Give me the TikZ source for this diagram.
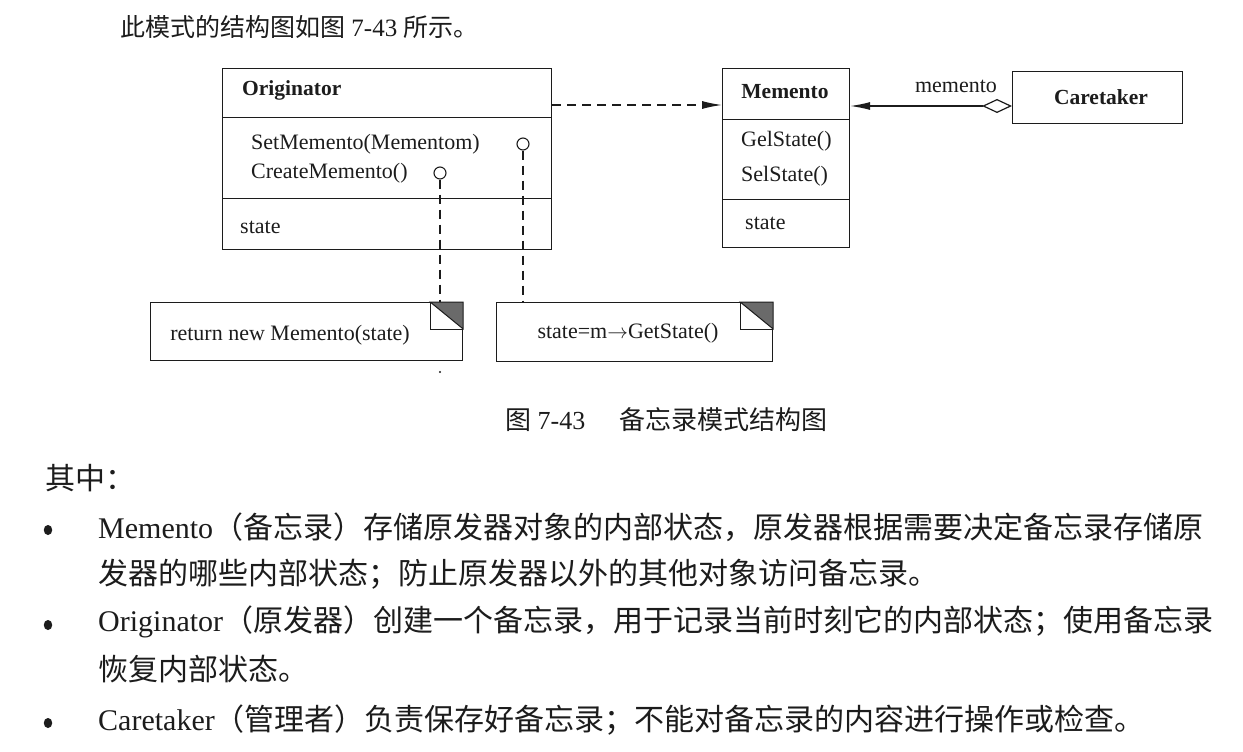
\documentclass[tikz,border=0pt]{standalone}
\usepackage{fontspec}
\setmainfont{Liberation Serif}
\newfontfamily\cjk{Noto Sans CJK SC}
\usetikzlibrary{arrows.meta,shapes.geometric}
\definecolor{ink}{HTML}{1C1C1C}
\definecolor{corner}{HTML}{6A6A6A}
\begin{document}
\begin{tikzpicture}[x=1pt,y=-1pt,
  box/.style={draw=ink, line width=1.2pt, anchor=north west, inner sep=0pt},
  txt/.style={anchor=west, inner sep=0pt, text=ink, font=\fontsize{22}{24}\selectfont},
  ttl/.style={inner sep=0pt, text=ink, font=\fontsize{21.5}{24}\selectfont\bfseries},
  dashes/.style={draw=ink, line width=1.2pt, dash pattern=on 9pt off 6pt},
  port/.style={circle, draw=ink, line width=1.1pt, minimum size=12pt, inner sep=0pt},
  body/.style={anchor=west, inner sep=0pt, text=ink, font=\fontsize{30}{34}\selectfont},
  head/.style={anchor=west, inner sep=0pt, text=ink, font=\fontsize{25}{28}\selectfont},
  captext/.style={anchor=west, inner sep=0pt, text=ink, font=\fontsize{26}{28}\selectfont},
  bulletdot/.style={ellipse, fill=ink, minimum width=8.5pt, minimum height=10pt, inner sep=0pt},
  tip/.style={line width=1.2pt, draw=ink}
]
\useasboundingbox[fill=white] (0,0) rectangle (1243,752);

% heading
\node[head] (intro) at (120,27) {{\cjk 此模式的结构图如图} 7-43 {\cjk 所示。}};

% Originator
\node[box, minimum width=329pt, minimum height=49pt] (oName) at (222,68) {};
\node[box, minimum width=329pt, minimum height=81pt] (oOps) at (222,117) {};
\node[box, minimum width=329pt, minimum height=51pt] (oAttr) at (222,198) {};
\node[ttl, anchor=west] (oNameT) at (242,90) {Originator};
\node[txt] (oOp1) at (251,144) {SetMemento(Mementom)};
\node[txt] (oOp2) at (251,173) {CreateMemento()};
\node[txt] (oAt) at (240,227) {state};
\node[port] (c1) at (523,144) {};
\node[port] (c2) at (440,173) {};

% Memento
\node[box, minimum width=127pt, minimum height=51pt] (mName) at (722,68) {};
\node[box, minimum width=127pt, minimum height=80pt] (mOps) at (722,119) {};
\node[box, minimum width=127pt, minimum height=48pt] (mAttr) at (722,199) {};
\node[ttl] (mNameT) at (785,92) {Memento};
\node[txt] (mOp1) at (741,141) {GelState()};
\node[txt] (mOp2) at (741,176) {SelState()};
\node[txt] (mAt) at (745,223) {state};

% Caretaker
\node[box, minimum width=170pt, minimum height=52pt] (cName) at (1012,71) {};
\node[ttl] (cNameT) at (1101,97) {Caretaker};

% connectors
\coordinate (y1) at (600,105);
\coordinate (y2) at (900,106);
\draw[dashes, -{Latex[length=20pt,width=8pt]}] (oName.east |- y1) -- (mName.west |- y1);
\draw[tip, {Diamond[open,length=30pt,width=14pt]}-{Latex[length=20pt,width=8pt]}] (cName.west |- y2) -- (mName.east |- y2);
\node[txt, anchor=center] (lbl) at (956,86) {memento};

% notes
\node[box, minimum width=312pt, minimum height=58pt] (nL) at (150,302) {};
\node[box, minimum width=276pt, minimum height=59pt] (nR) at (496,302) {};
\node[txt, anchor=center] (nLT) at (290,335) {return new Memento(state)};
\node[txt, anchor=center] (nRT) at (628,333) {state=m$\rightarrow$GetState()};
\foreach \n in {nL,nR}{
  \filldraw[fill=corner, draw=ink, line width=1pt] ([xshift=-33pt]\n.north east) -- (\n.north east) -- ([yshift=-27pt]\n.north east) -- cycle;
  \draw[ink, line width=1pt] ([xshift=-33pt]\n.north east) -- ([xshift=-33pt,yshift=-27pt]\n.north east) -- ([yshift=-27pt]\n.north east);
}
\draw[dashes] (c1.south) -- (c1.south |- nR.north);
\draw[dashes] (c2.south) -- (c2.south |- nL.north);
\fill[ink] (440,372) circle (1.2pt);

% caption
\node[captext] (capt) at (505,420) {{\cjk 图} 7-43\hspace{34pt}{\cjk 备忘录模式结构图}};

% body text
\node[body] (among) at (45,478) {\cjk 其中：};
\node[bulletdot] (b1) at (48,530) {};
\node[body] (l1) at (98,527) {Memento{\cjk （备忘录）存储原发器对象的内部状态，原发器根据需要决定备忘录存储原}};
\node[body] (l2) at (98,574) {\cjk 发器的哪些内部状态；防止原发器以外的其他对象访问备忘录。};
\node[bulletdot] (b2) at (48,625) {};
\node[body] (l3) at (98,622) {Originator{\cjk （原发器）创建一个备忘录，用于记录当前时刻它的内部状态；使用备忘录}};
\node[body] (l4) at (98,669) {\cjk 恢复内部状态。};
\node[bulletdot] (b3) at (48,723) {};
\node[body] (l5) at (98,720) {Caretaker{\cjk （管理者）负责保存好备忘录；不能对备忘录的内容进行操作或检查。}};
\end{tikzpicture}
\end{document}
